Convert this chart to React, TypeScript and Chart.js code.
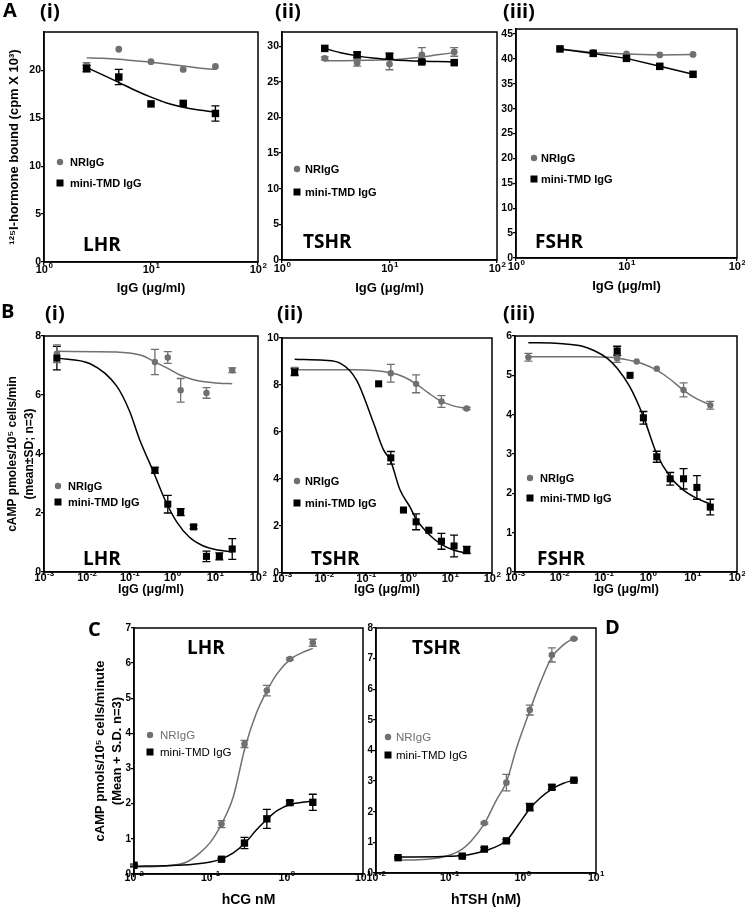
import React, { useEffect, useRef } from 'react';
import { Chart, registerables } from 'chart.js';
Chart.register(...registerables);

const GRAY = 'rgb(112,112,112)';
const BLACK = '#000000';
const SANS = '"Liberation Sans", Arial, sans-serif';
const HEAD = '"Open Sans", "Liberation Sans", sans-serif';

// ---------- Panel A : 125I-hormone binding ----------
const A_DOSE = [2.5, 5, 10, 20, 40];
const A_FIT_X = [2.5, 3.5, 5, 7, 10, 14, 20, 28, 40];
const A_X_EXP = [0, 1, 2];

const A1_NR = [20.5, 22.2, 20.9, 20.1, 20.4];
const A1_NR_ERR = [0.3, 0, 0, 0, 0];
const A1_MINI = [20.2, 19.3, 16.5, 16.55, 15.5];
const A1_MINI_ERR = [0.35, 0.8, 0, 0, 0.8];
const A1_NR_FIT = [21.3, 21.25, 21.15, 21.0, 20.85, 20.65, 20.45, 20.25, 20.1];
const A1_MINI_FIT = [20.3, 19.55, 18.75, 17.95, 17.2, 16.6, 16.15, 15.85, 15.65];
const A1_Y_TICKS = [0, 5, 10, 15, 20];

const A2_NR = [28.3, 27.7, 27.5, 28.8, 29.2];
const A2_NR_ERR = [0.2, 0.5, 0.8, 1.0, 0.6];
const A2_MINI = [29.7, 28.8, 28.6, 27.8, 27.7];
const A2_MINI_ERR = [0, 0.4, 0.4, 0.2, 0];
const A2_NR_FIT = [27.95, 27.97, 28.0, 28.05, 28.1, 28.25, 28.5, 28.8, 29.1];
const A2_MINI_FIT = [29.7, 29.1, 28.65, 28.35, 28.15, 28.0, 27.9, 27.85, 27.8];
const A2_Y_TICKS = [0, 5, 10, 15, 20, 25, 30];

const A3_NR = [42.0, 41.3, 41.0, 40.8, 40.9];
const A3_MINI = [42.0, 41.1, 40.1, 38.5, 36.9];
const A3_Y_TICKS = [0, 5, 10, 15, 20, 25, 30, 35, 40, 45];

// ---------- Panel B : cAMP inhibition ----------
const B_X_EXP = [-3, -2, -1, 0, 1, 2];

const B1_NR_X = [0.002, 0.39, 0.78, 1.56, 6.25, 25];
const B1_NR = [7.4, 7.12, 7.27, 6.16, 6.07, 6.84];
const B1_NR_ERR = [0.3, 0.43, 0.2, 0.4, 0.18, 0.08];
const B1_MINI_X = [0.002, 0.39, 0.78, 1.56, 3.125, 6.25, 12.5, 25];
const B1_MINI = [7.25, 3.45, 2.3, 2.03, 1.53, 0.53, 0.53, 0.78];
const B1_MINI_ERR = [0.4, 0.1, 0.3, 0.12, 0.06, 0.18, 0.12, 0.35];
const B1_NR_FIT_X = [0.002, 0.05, 0.1, 0.2, 0.36, 0.78, 1.5, 3.125, 6.25, 12.5, 25];
const B1_NR_FIT = [7.48, 7.46, 7.42, 7.33, 7.15, 6.9, 6.68, 6.52, 6.44, 6.4, 6.38];
const B1_MINI_FIT_X = [0.002, 0.012, 0.05, 0.1, 0.17, 0.36, 0.67, 1.26, 2.5, 5, 10, 25];
const B1_MINI_FIT = [7.25, 7.06, 6.3, 5.45, 4.5, 3.4, 2.45, 1.7, 1.18, 0.9, 0.76, 0.68];
const B1_Y_TICKS = [0, 2, 4, 6, 8];

const B2_NR_X = [0.002, 0.39, 1.56, 6.25, 25];
const B2_NR = [8.6, 8.5, 8.05, 7.3, 7.0];
const B2_NR_ERR = [0.15, 0.38, 0.38, 0.25, 0.05];
const B2_MINI_X = [0.002, 0.2, 0.39, 0.78, 1.56, 3.125, 6.25, 12.5, 25];
const B2_MINI = [8.55, 8.05, 4.9, 2.68, 2.18, 1.82, 1.35, 1.15, 0.98];
const B2_MINI_ERR = [0.15, 0, 0.27, 0, 0.34, 0, 0.34, 0.46, 0.15];
const B2_NR_FIT_X = [0.002, 0.05, 0.15, 0.39, 0.78, 1.56, 3.125, 6.25, 12.5, 25];
const B2_NR_FIT = [8.65, 8.65, 8.62, 8.52, 8.35, 8.05, 7.65, 7.3, 7.1, 7.0];
const B2_MINI_FIT_X = [0.002, 0.01, 0.024, 0.06, 0.15, 0.26, 0.39, 0.64, 1.12, 1.56, 3.125, 6.25, 12.5, 25];
const B2_MINI_FIT = [9.1, 9.05, 8.93, 8.2, 6.4, 5.25, 4.75, 3.55, 2.8, 2.3, 1.65, 1.22, 0.97, 0.85];
const B2_Y_TICKS = [0, 2, 4, 6, 8, 10];

const B3_NR_X = [0.002, 0.2, 0.55, 1.56, 6.25, 25];
const B3_NR = [5.46, 5.43, 5.35, 5.17, 4.63, 4.24];
const B3_NR_ERR = [0.1, 0.1, 0, 0, 0.18, 0.1];
const B3_MINI_X = [0.2, 0.39, 0.78, 1.56, 3.125, 6.25, 12.5, 25];
const B3_MINI = [5.62, 5.0, 3.92, 2.93, 2.37, 2.37, 2.15, 1.65];
const B3_MINI_ERR = [0.12, 0, 0.16, 0.14, 0.16, 0.26, 0.3, 0.2];
const B3_NR_FIT_X = [0.002, 0.05, 0.1, 0.2, 0.39, 0.78, 1.56, 3.125, 6.25, 12.5, 25];
const B3_NR_FIT = [5.47, 5.47, 5.46, 5.44, 5.38, 5.29, 5.13, 4.9, 4.62, 4.4, 4.25];
const B3_MINI_FIT_X = [0.002, 0.01, 0.03, 0.06, 0.12, 0.2, 0.39, 0.78, 1.56, 3.125, 6.25, 12.5, 25];
const B3_MINI_FIT = [5.83, 5.81, 5.75, 5.63, 5.43, 5.18, 4.7, 3.95, 3.0, 2.42, 2.08, 1.87, 1.73];
const B3_Y_TICKS = [0, 1, 2, 3, 4, 5, 6];

// ---------- Panel C : hormone dose-response ----------
const C_X_EXP = [-2, -1, 0, 1];

const C1_DOSE = [0.01, 0.14, 0.28, 0.55, 1.1, 2.2];
const C1_NR = [0.22, 1.42, 3.7, 5.22, 6.12, 6.58];
const C1_NR_ERR = [0.03, 0.1, 0.1, 0.15, 0.03, 0.1];
const C1_MINI = [0.25, 0.42, 0.88, 1.57, 2.03, 2.04];
const C1_MINI_ERR = [0.03, 0.03, 0.16, 0.27, 0.06, 0.23];
const C1_NR_FIT_X = [0.01, 0.027, 0.05, 0.073, 0.1, 0.121, 0.14, 0.164, 0.2, 0.285, 0.405, 0.548, 0.75, 1.1, 1.6, 2.2];
const C1_NR_FIT = [0.2, 0.23, 0.35, 0.6, 0.9, 1.17, 1.42, 1.72, 2.2, 3.6, 4.6, 5.2, 5.7, 6.1, 6.3, 6.42];
const C1_MINI_FIT_X = [0.01, 0.03, 0.06, 0.1, 0.14, 0.2, 0.285, 0.4, 0.548, 0.75, 1.1, 1.6, 2.2];
const C1_MINI_FIT = [0.22, 0.24, 0.28, 0.34, 0.43, 0.6, 0.88, 1.25, 1.55, 1.8, 1.98, 2.04, 2.07];
const C1_Y_TICKS = [0, 1, 2, 3, 4, 5, 6, 7];

const C2_NR_X = [0.3, 0.6, 1.25, 2.5, 5];
const C2_NR = [1.63, 2.95, 5.32, 7.12, 7.65];
const C2_NR_ERR = [0.03, 0.27, 0.16, 0.23, 0.03];
const C2_MINI_X = [0.02, 0.15, 0.3, 0.6, 1.25, 2.5, 5];
const C2_MINI = [0.5, 0.55, 0.78, 1.05, 2.15, 2.8, 3.03];
const C2_MINI_ERR = [0.03, 0.03, 0.05, 0.04, 0.12, 0.08, 0.03];
const C2_NR_FIT_X = [0.02, 0.05, 0.1, 0.15, 0.2, 0.3, 0.44, 0.6, 0.83, 1.25, 1.73, 2.5, 3.6, 5];
const C2_NR_FIT = [0.42, 0.45, 0.58, 0.78, 1.05, 1.61, 2.39, 2.97, 4.1, 5.3, 6.2, 7.05, 7.45, 7.67];
const C2_MINI_FIT_X = [0.02, 0.08, 0.15, 0.3, 0.6, 0.83, 1.25, 1.73, 2.5, 3.6, 5];
const C2_MINI_FIT = [0.52, 0.54, 0.57, 0.72, 1.06, 1.5, 2.1, 2.45, 2.74, 2.93, 3.03];
const C2_Y_TICKS = [0, 1, 2, 3, 4, 5, 6, 7, 8];

// ---------- helpers ----------
const xy = (xs: number[], ys: number[]) => xs.map((x, i) => ({ x, y: ys[i] }));

function fitLine(xs: number[], ys: number[], color: string) {
  return {
    data: xy(xs, ys),
    showLine: true,
    borderColor: color,
    borderWidth: 1.5,
    pointRadius: 0,
    cubicInterpolationMode: 'monotone',
    tension: 0,
    fill: false,
  };
}

function markers(xs: number[], ys: number[], errs: number[] | null, color: string, shape: string, r: number, line = false) {
  return {
    data: xy(xs, ys),
    errs,
    errColor: color,
    showLine: line,
    borderColor: color,
    borderWidth: line ? 1.5 : 0,
    backgroundColor: color,
    pointBackgroundColor: color,
    pointBorderColor: color,
    pointBorderWidth: 0,
    pointStyle: shape,
    pointRadius: r,
    tension: 0,
  };
}

const errorBarPlugin = {
  id: 'errbars',
  beforeDatasetsDraw(chart: any) {
    const ctx = chart.ctx;
    const ys = chart.scales.y;
    chart.data.datasets.forEach((ds: any, i: number) => {
      if (!ds.errs) return;
      const meta = chart.getDatasetMeta(i);
      ctx.save();
      ctx.strokeStyle = ds.errColor;
      ctx.lineWidth = 1.3;
      meta.data.forEach((pt: any, j: number) => {
        const e = ds.errs[j];
        if (!e) return;
        const v = ds.data[j].y;
        const y1 = ys.getPixelForValue(v + e);
        const y2 = ys.getPixelForValue(v - e);
        ctx.beginPath();
        ctx.moveTo(pt.x, y1); ctx.lineTo(pt.x, y2);
        ctx.moveTo(pt.x - 4, y1); ctx.lineTo(pt.x + 4, y1);
        ctx.moveTo(pt.x - 4, y2); ctx.lineTo(pt.x + 4, y2);
        ctx.stroke();
      });
      ctx.restore();
    });
  },
};

const overlayPlugin = {
  id: 'overlay',
  afterDraw(chart: any, _a: any, o: any) {
    const ctx = chart.ctx;
    const a = chart.chartArea;
    ctx.save();
    ctx.strokeStyle = '#000';
    ctx.lineWidth = 1.5;
    ctx.strokeRect(a.left, a.top, a.right - a.left, a.bottom - a.top);
    // log tick labels with superscript exponents
    const xs = chart.scales.x;
    ctx.fillStyle = '#000';
    ctx.textBaseline = 'middle';
    ctx.textAlign = 'left';
    for (const e of o.exps) {
      const px = xs.getPixelForValue(Math.pow(10, e));
      const sup = e < 0 ? '-' + Math.abs(e) : String(e);
      ctx.font = `bold ${o.tickSize}px ${SANS}`;
      const w1 = ctx.measureText('10').width;
      ctx.font = `bold ${o.supSize}px ${SANS}`;
      const w2 = ctx.measureText(sup).width;
      const x0 = px - (w1 + w2) / 2;
      const y = a.bottom + o.labelDy;
      ctx.font = `bold ${o.tickSize}px ${SANS}`;
      ctx.fillText('10', x0, y);
      ctx.font = `bold ${o.supSize}px ${SANS}`;
      ctx.fillText(sup, x0 + w1 + 0.5, y - 4);
    }
    // legend
    for (const it of o.legend) {
      const x = it.x - o.ox, y = it.y - o.oy;
      ctx.fillStyle = it.color;
      ctx.beginPath();
      if (it.shape === 'circle') {
        ctx.arc(x, y, 3.2, 0, Math.PI * 2);
        ctx.fill();
      } else {
        ctx.fillRect(x - 3.5, y - 3.5, 7, 7);
      }
      ctx.fillStyle = it.textColor;
      ctx.font = o.legendFont;
      ctx.textBaseline = 'middle';
      ctx.fillText(it.text, it.tx - o.ox, y + 0.5);
    }
    // receptor label
    ctx.fillStyle = '#000';
    ctx.font = `bold 19px ${HEAD}`;
    ctx.textBaseline = 'middle';
    ctx.fillText(o.label.text, o.label.x - o.ox, o.label.y - o.oy);
    ctx.restore();
  },
};

type Spec = {
  id: string;
  box: [number, number, number, number]; // L T R B (page)
  canvas: [number, number, number, number]; // left top right bottom (page)
  xExp: number[];
  yMax: number;
  yTicks: number[];
  yTitle: string[] | null;
  yTitleX: number;
  yTitleSize: number;
  yTitleLH: number;
  xTitle: string;
  xTitleY: number;
  xTitleSize: number;
  labelDy: number;
  tickSize: number;
  datasets: any[];
  legend: any[];
  legendFont: string;
  label: { text: string; x: number; y: number };
};

function PanelChart({ s }: { s: Spec }) {
  const ref = useRef<HTMLCanvasElement>(null);
  const [cl, ct, cr, cb] = s.canvas;
  const [L, T, R, B] = s.box;
  const W = cr - cl, H = cb - ct;
  useEffect(() => {
    if (!ref.current) return;
    const yW = L - cl, padTop = T - ct, padRight = cr - R, xH = cb - B;
    const yLH = s.yTitleSize * s.yTitleLH;
    const xLH = s.xTitleSize * 1.2;
    const tickDefs = (vals: number[]) => (scale: any) => {
      scale.ticks = vals.map((v) => ({ value: v }));
    };
    const gridOpt = { drawOnChartArea: false, drawTicks: true, tickLength: 3, color: '#000', lineWidth: 1.3 };
    const chart = new Chart(ref.current, {
      type: 'scatter',
      data: { datasets: s.datasets },
      plugins: [errorBarPlugin, overlayPlugin],
      options: {
        responsive: false,
        animation: false,
        devicePixelRatio: 1,
        layout: { padding: { left: 0, top: padTop, right: padRight, bottom: 0 } },
        plugins: {
          legend: { display: false },
          tooltip: { enabled: false },
          overlay: {
            exps: s.xExp, tickSize: s.tickSize + 0.5, supSize: 8, labelDy: s.labelDy,
            legend: s.legend, legendFont: s.legendFont, label: s.label, ox: cl, oy: ct,
          },
        } as any,
        scales: {
          x: {
            type: 'logarithmic',
            min: Math.pow(10, s.xExp[0]),
            max: Math.pow(10, s.xExp[s.xExp.length - 1]),
            afterBuildTicks: tickDefs(s.xExp.map((e) => Math.pow(10, e))),
            afterFit: (sc: any) => { sc.height = xH; },
            ticks: { display: false },
            grid: gridOpt,
            border: { color: '#000', width: 1.5 },
            title: {
              display: true, text: s.xTitle, color: '#000',
              font: { family: SANS, size: s.xTitleSize, weight: 'bold' },
              padding: { top: 0, bottom: cb - s.xTitleY - xLH / 2 },
            },
          },
          y: {
            type: 'linear',
            min: 0,
            max: s.yMax,
            afterBuildTicks: tickDefs(s.yTicks),
            afterFit: (sc: any) => { sc.width = yW; },
            ticks: { color: '#000', padding: 0, font: { family: SANS, size: s.tickSize, weight: 'bold' } },
            grid: gridOpt,
            border: { color: '#000', width: 1.5 },
            title: {
              display: !!s.yTitle, text: s.yTitle || '', color: '#000',
              font: { family: SANS, size: s.yTitleSize, weight: 'bold', lineHeight: s.yTitleLH },
              padding: { top: s.yTitleX - cl - yLH / 2, bottom: 0 },
            },
          },
        },
      } as any,
    });
    return () => chart.destroy();
  }, []);
  return (
    <canvas
      ref={ref}
      width={W}
      height={H}
      style={{ position: 'absolute', left: cl, top: ct, width: W, height: H }}
    />
  );
}

const legendAB = (cx: number, cy1: number, cy2: number, tx: number) => [
  { shape: 'circle', color: GRAY, x: cx, y: cy1, text: 'NRIgG', tx, textColor: '#000' },
  { shape: 'rect', color: BLACK, x: cx, y: cy2, text: 'mini-TMD IgG', tx, textColor: '#000' },
];
const legendC = (cx: number, cy1: number, cy2: number, tx: number) => [
  { shape: 'circle', color: GRAY, x: cx, y: cy1, text: 'NRIgG', tx, textColor: GRAY },
  { shape: 'rect', color: BLACK, x: cx, y: cy2, text: 'mini-TMD IgG', tx, textColor: '#000' },
];

const LEG_BOLD = `bold 11px ${SANS}`;
const LEG_C = `11.5px ${SANS}`;
const IGG = 'IgG (\u03bcg/ml)';

const SPECS: Spec[] = [
  {
    id: 'A1', box: [44, 32, 258, 262], canvas: [0, 22, 270, 300], xExp: A_X_EXP, yMax: 24, yTicks: A1_Y_TICKS,
    yTitle: ['\u00b9\u00b2\u2075I-hormone bound (cpm X 10\u00b3)'], yTitleX: 14, yTitleSize: 13, yTitleLH: 1.2,
    xTitle: IGG, xTitleY: 288, xTitleSize: 13, labelDy: 8, tickSize: 10.5,
    datasets: [
      markers(A_DOSE, A1_MINI, A1_MINI_ERR, BLACK, 'rect', 5.3),
      markers(A_DOSE, A1_NR, A1_NR_ERR, GRAY, 'circle', 3.4),
      fitLine(A_FIT_X, A1_MINI_FIT, BLACK),
      fitLine(A_FIT_X, A1_NR_FIT, GRAY),
    ],
    legend: legendAB(60, 162, 183, 70), legendFont: LEG_BOLD, label: { text: 'LHR', x: 83, y: 246 },
  },
  {
    id: 'A2', box: [282, 32, 497, 260], canvas: [262, 22, 508, 300], xExp: A_X_EXP, yMax: 32, yTicks: A2_Y_TICKS,
    yTitle: null, yTitleX: 0, yTitleSize: 13, yTitleLH: 1.2,
    xTitle: IGG, xTitleY: 288, xTitleSize: 13, labelDy: 9, tickSize: 10.5,
    datasets: [
      markers(A_DOSE, A2_MINI, A2_MINI_ERR, BLACK, 'rect', 5.3),
      markers(A_DOSE, A2_NR, A2_NR_ERR, GRAY, 'circle', 3.4),
      fitLine(A_FIT_X, A2_MINI_FIT, BLACK),
      fitLine(A_FIT_X, A2_NR_FIT, GRAY),
    ],
    legend: legendAB(297, 169, 192, 305), legendFont: LEG_BOLD, label: { text: 'TSHR', x: 303, y: 243 },
  },
  {
    id: 'A3', box: [516, 29, 737, 258], canvas: [496, 19, 745, 300], xExp: A_X_EXP, yMax: 46, yTicks: A3_Y_TICKS,
    yTitle: null, yTitleX: 0, yTitleSize: 13, yTitleLH: 1.2,
    xTitle: IGG, xTitleY: 286, xTitleSize: 13, labelDy: 9, tickSize: 10.5,
    datasets: [
      markers(A_DOSE, A3_MINI, null, BLACK, 'rect', 5.3, true),
      markers(A_DOSE, A3_NR, null, GRAY, 'circle', 3.4, true),
    ],
    legend: legendAB(534, 158, 179, 541), legendFont: LEG_BOLD, label: { text: 'FSHR', x: 535, y: 243 },
  },
  {
    id: 'B1', box: [44, 336, 258, 572], canvas: [0, 326, 270, 600], xExp: B_X_EXP, yMax: 8, yTicks: B1_Y_TICKS,
    yTitle: ['cAMP pmoles/10\u2075 cells/min', '(mean\u00b1SD; n=3)'], yTitleX: 13, yTitleSize: 12, yTitleLH: 1.38,
    xTitle: IGG, xTitleY: 590, xTitleSize: 12.5, labelDy: 6, tickSize: 10.5,
    datasets: [
      markers(B1_MINI_X, B1_MINI, B1_MINI_ERR, BLACK, 'rect', 5.0),
      markers(B1_NR_X, B1_NR, B1_NR_ERR, GRAY, 'circle', 3.2),
      fitLine(B1_MINI_FIT_X, B1_MINI_FIT, BLACK),
      fitLine(B1_NR_FIT_X, B1_NR_FIT, GRAY),
    ],
    legend: legendAB(58, 486, 502, 68), legendFont: LEG_BOLD, label: { text: 'LHR', x: 83, y: 560 },
  },
  {
    id: 'B2', box: [282, 338, 492, 573], canvas: [262, 328, 505, 600], xExp: B_X_EXP, yMax: 10, yTicks: B2_Y_TICKS,
    yTitle: null, yTitleX: 0, yTitleSize: 13, yTitleLH: 1.2,
    xTitle: IGG, xTitleY: 590, xTitleSize: 12.5, labelDy: 6, tickSize: 10.5,
    datasets: [
      markers(B2_MINI_X, B2_MINI, B2_MINI_ERR, BLACK, 'rect', 5.0),
      markers(B2_NR_X, B2_NR, B2_NR_ERR, GRAY, 'circle', 3.2),
      fitLine(B2_MINI_FIT_X, B2_MINI_FIT, BLACK),
      fitLine(B2_NR_FIT_X, B2_NR_FIT, GRAY),
    ],
    legend: legendAB(297, 481, 503, 305), legendFont: LEG_BOLD, label: { text: 'TSHR', x: 311, y: 560 },
  },
  {
    id: 'B3', box: [515, 336, 737, 572], canvas: [496, 326, 745, 600], xExp: B_X_EXP, yMax: 6, yTicks: B3_Y_TICKS,
    yTitle: null, yTitleX: 0, yTitleSize: 13, yTitleLH: 1.2,
    xTitle: IGG, xTitleY: 590, xTitleSize: 12.5, labelDy: 6, tickSize: 10.5,
    datasets: [
      markers(B3_MINI_X, B3_MINI, B3_MINI_ERR, BLACK, 'rect', 5.0),
      markers(B3_NR_X, B3_NR, B3_NR_ERR, GRAY, 'circle', 3.2),
      fitLine(B3_MINI_FIT_X, B3_MINI_FIT, BLACK),
      fitLine(B3_NR_FIT_X, B3_NR_FIT, GRAY),
    ],
    legend: legendAB(530, 478, 498, 540), legendFont: LEG_BOLD, label: { text: 'FSHR', x: 537, y: 560 },
  },
  {
    id: 'C1', box: [134, 628, 363, 874], canvas: [90, 618, 375, 909], xExp: C_X_EXP, yMax: 7, yTicks: C1_Y_TICKS,
    yTitle: ['cAMP pmols/10\u2075 cells/minute', '(Mean + S.D. n=3)'], yTitleX: 100, yTitleSize: 13, yTitleLH: 1.33,
    xTitle: 'hCG nM', xTitleY: 900, xTitleSize: 14, labelDy: 4, tickSize: 10,
    datasets: [
      markers(C1_DOSE, C1_MINI, C1_MINI_ERR, BLACK, 'rect', 5.2),
      markers(C1_DOSE, C1_NR, C1_NR_ERR, GRAY, 'circle', 3.3),
      fitLine(C1_MINI_FIT_X, C1_MINI_FIT, BLACK),
      fitLine(C1_NR_FIT_X, C1_NR_FIT, GRAY),
    ],
    legend: legendC(150, 735, 752, 160), legendFont: LEG_C, label: { text: 'LHR', x: 187, y: 649 },
  },
  {
    id: 'C2', box: [376, 628, 596, 873], canvas: [358, 618, 612, 909], xExp: C_X_EXP, yMax: 8, yTicks: C2_Y_TICKS,
    yTitle: null, yTitleX: 0, yTitleSize: 14, yTitleLH: 1.2,
    xTitle: 'hTSH (nM)', xTitleY: 900, xTitleSize: 14, labelDy: 5, tickSize: 10,
    datasets: [
      markers(C2_MINI_X, C2_MINI, C2_MINI_ERR, BLACK, 'rect', 5.2),
      markers(C2_NR_X, C2_NR, C2_NR_ERR, GRAY, 'circle', 3.3),
      fitLine(C2_MINI_FIT_X, C2_MINI_FIT, BLACK),
      fitLine(C2_NR_FIT_X, C2_NR_FIT, GRAY),
    ],
    legend: legendC(388, 737, 755, 396), legendFont: LEG_C, label: { text: 'TSHR', x: 412, y: 649 },
  },
];

const LETTERS: { t: string; x: number; y: number }[] = [
  { t: 'A', x: 3, y: 8 },
  { t: '(i)', x: 40, y: 9 },
  { t: '(ii)', x: 275, y: 9 },
  { t: '(iii)', x: 503, y: 9 },
  { t: 'B', x: 1, y: 309 },
  { t: '(i)', x: 45, y: 311 },
  { t: '(ii)', x: 277, y: 311 },
  { t: '(iii)', x: 503, y: 311 },
  { t: 'C', x: 88, y: 627 },
  { t: 'D', x: 605, y: 625 },
];

export default function App() {
  return (
    <div style={{ position: 'absolute', left: 0, top: 0, width: 745, height: 909, background: '#fff', overflow: 'hidden' }}>
      {SPECS.map((s) => <PanelChart key={s.id} s={s} />)}
      {LETTERS.map((l, i) => (
        <div
          key={i}
          style={{
            position: 'absolute', left: l.x, top: l.y - 12, height: 24, lineHeight: '24px',
            font: `bold 20px ${HEAD}`, color: '#000', whiteSpace: 'nowrap',
          }}
        >
          {l.t}
        </div>
      ))}
    </div>
  );
}
